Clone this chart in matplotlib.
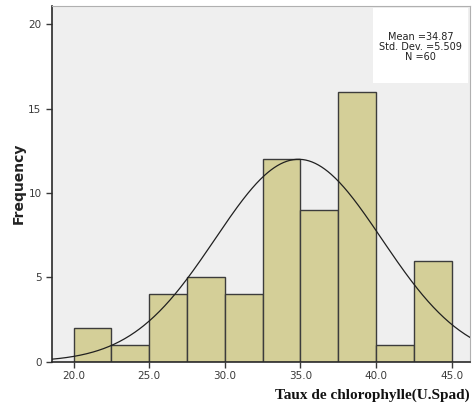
import numpy as np
import matplotlib.pyplot as plt
from matplotlib.patches import Rectangle

# Histogram of chlorophyll readings (U.Spad), bin width 2.5
bin_edges = [20.0, 22.5, 25.0, 27.5, 30.0, 32.5, 35.0, 37.5, 40.0, 42.5, 45.0]
counts = [2, 1, 4, 5, 4, 12, 9, 16, 1, 6]
mean, std_dev, n_obs = 34.87, 5.509, 60
curve_peak = 12.0

x_ticks = [20.0, 25.0, 30.0, 35.0, 40.0, 45.0]
y_ticks = [0, 5, 10, 15, 20]

BAR = '#d4cf98'
EDGE = '#3c3c3c'
BG = '#efefef'
TXT = '#3a3a3a'

fig = plt.figure(figsize=(4.76, 4.12), dpi=100)
ax = fig.add_axes([0.109, 0.122, 0.878, 0.864])
ax.set_facecolor(BG)

lefts = bin_edges[:-1]
widths = np.diff(bin_edges)
ax.bar(lefts, counts, width=widths, align='edge', color=BAR,
       edgecolor=EDGE, linewidth=1.0, zorder=2)

# fitted normal curve
xs = np.linspace(18.5, 46.3, 400)
ys = curve_peak * np.exp(-0.5 * ((xs - mean) / std_dev) ** 2)
ax.plot(xs, ys, color='#202020', lw=0.9, zorder=3)

ax.set_xlim(18.57, 46.2)
ax.set_ylim(0, 21.1)
ax.set_xticks(x_ticks)
ax.set_xticklabels([f'{v:.1f}' for v in x_ticks])
ax.set_yticks(y_ticks)
ax.tick_params(axis='both', labelsize=7.5, colors=TXT, length=4, width=1.0)
ax.tick_params(axis='x', pad=3)

for side in ('left', 'bottom'):
    ax.spines[side].set_color('#2a2a2a')
    ax.spines[side].set_linewidth(1.2)
for side in ('top', 'right'):
    ax.spines[side].set_color('#b0b0b0')
    ax.spines[side].set_linewidth(0.8)

ax.set_ylabel('Frequency', fontsize=10, fontweight='bold', color='#222222',
              labelpad=2)
fig.text(0.987, 0.025, 'Taux de chlorophylle(U.Spad)', ha='right',
         va='bottom', fontsize=11, fontweight='bold', color='#111111',
         family='Liberation Serif')

# summary statistics box
ax.add_patch(Rectangle((0.768, 0.783), 0.227, 0.211, transform=ax.transAxes,
                       facecolor='white', edgecolor='none', zorder=4))
ax.text(0.882, 0.885, 'Mean =34.87\nStd. Dev. =5.509\nN =60',
        transform=ax.transAxes, ha='center', va='center', fontsize=7,
        color='#222222', linespacing=1.0, zorder=5)

fig.savefig('out.png', dpi=100)
